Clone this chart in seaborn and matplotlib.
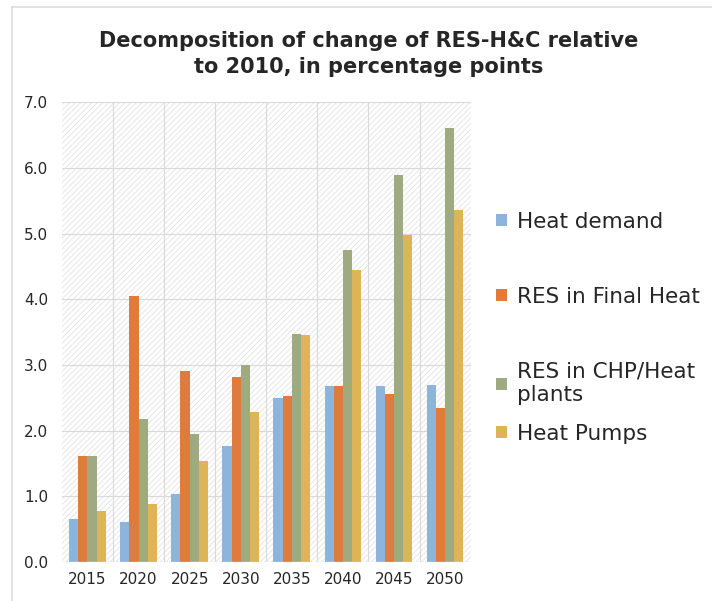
import matplotlib
matplotlib.use("Agg")
import matplotlib.pyplot as plt
from matplotlib.lines import Line2D
from matplotlib.patches import Patch
import seaborn as sns
import pandas as pd

years = ["2015", "2020", "2025", "2030", "2035", "2040", "2045", "2050"]
heat_demand = [0.65, 0.61, 1.03, 1.77, 2.50, 2.68, 2.68, 2.70]
res_final_heat = [1.62, 4.05, 2.90, 2.82, 2.53, 2.68, 2.55, 2.34]
res_chp_heat = [1.61, 2.18, 1.95, 3.00, 3.47, 4.75, 5.89, 6.61]
heat_pumps = [0.77, 0.88, 1.54, 2.28, 3.46, 4.45, 4.98, 5.36]
series_names = ["Heat demand", "RES in Final Heat", "RES in CHP/Heat\nplants", "Heat Pumps"]
colors = ["#8DB4DD", "#E07B3E", "#A0AA80", "#DDB456"]

rows = []
for name, vals in zip(series_names, [heat_demand, res_final_heat, res_chp_heat, heat_pumps]):
    for y, v in zip(years, vals):
        rows.append({"year": y, "series": name, "value": v})
df = pd.DataFrame(rows)

sns.set_style("white")
plt.rcParams["font.family"] = ["DejaVu Sans"]
plt.rcParams["hatch.linewidth"] = 0.6

fig = plt.figure(figsize=(7.12, 6.01), dpi=100)
ax = fig.add_axes([0.087, 0.065, 0.574, 0.765])
ax.patch.set_facecolor("white")
ax.patch.set_edgecolor("#E3E3E3")
ax.patch.set_linewidth(0)
ax.patch.set_hatch("//////")

sns.barplot(data=df, x="year", y="value", hue="series", palette=colors,
            width=0.72, gap=0, saturation=1, linewidth=0, ax=ax, zorder=3,
            legend=False)

ax.set_ylim(0, 7)
ax.set_xlim(-0.5, 7.5)
ax.set_yticks(range(8))
ax.set_yticklabels([f"{v:.1f}" for v in range(8)])
for v in range(1, 8):
    ax.axhline(v, color="#D9D9D9", lw=0.8, zorder=1)
for b in range(1, 8):
    ax.axvline(b - 0.5, color="#D9D9D9", lw=0.8, zorder=1)
ax.axhline(0, color="#D9D9D9", lw=1, zorder=4)
for s in ax.spines.values():
    s.set_visible(False)
ax.set_xlabel("")
ax.set_ylabel("")
ax.tick_params(axis="both", length=0, labelsize=11, colors="#262626")
ax.tick_params(axis="y", pad=10)
ax.tick_params(axis="x", pad=7)

handles = [Patch(facecolor=c, edgecolor="none") for c in colors]
leg_kw = dict(frameon=False, fontsize=15.5, handlelength=0.5, handleheight=0.5,
              handletextpad=0.45, borderaxespad=0, borderpad=0)
fig.legend(handles[:3], series_names[:3], loc="upper left",
           bbox_to_anchor=(0.697, 1 - 212 / 601), labelspacing=2.55, **leg_kw)
fig.legend(handles[3:], series_names[3:], loc="upper left",
           bbox_to_anchor=(0.697, 1 - 424 / 601), **leg_kw)

fig.text(0.518, 0.91, "Decomposition of change of RES-H&C relative\nto 2010, in percentage points",
         ha="center", va="center", fontsize=15, fontweight="bold", linespacing=1.4)

# light frame on the left and top edges
fig.add_artist(Line2D([12 / 712, 12 / 712], [0, 1 - 7 / 601], color="#DDDDDD", lw=1.2,
                      transform=fig.transFigure))
fig.add_artist(Line2D([12 / 712, 1], [1 - 7 / 601, 1 - 7 / 601], color="#DDDDDD", lw=1.2,
                      transform=fig.transFigure))

fig.savefig("out.png", dpi=100)
